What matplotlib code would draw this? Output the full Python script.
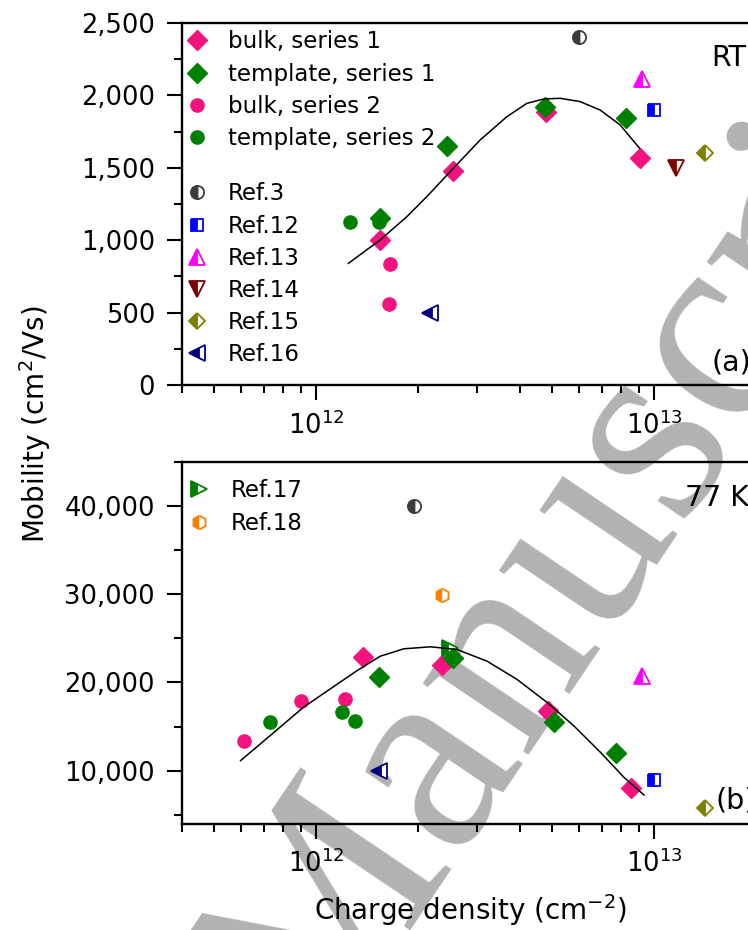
import matplotlib
matplotlib.use('Agg')
import matplotlib.pyplot as plt
from matplotlib.ticker import MultipleLocator, FixedLocator, LogLocator

# ---------------- data: RT panel (a) ----------------
rt_bulk1_x = [1.55e12, 2.54e12, 4.78e12, 9.07e12]
rt_bulk1_y = [1000, 1480, 1888, 1565]
rt_tmpl1_x = [1.55e12, 2.44e12, 4.76e12, 8.24e12]
rt_tmpl1_y = [1150, 1653, 1922, 1842]
rt_bulk2_x = [1.66e12, 1.64e12]
rt_bulk2_y = [836, 559]
rt_tmpl2_x = [1.26e12, 1.53e12]
rt_tmpl2_y = [1128, 1128]
rt_ref_labels = ['Ref.3', 'Ref.12', 'Ref.13', 'Ref.14', 'Ref.15', 'Ref.16']
rt_ref_x = [6.0e12, 1.0e13, 9.2e12, 1.16e13, 1.41e13, 2.17e12]
rt_ref_y = [2400, 1900, 2110, 1497, 1600, 495]
rt_fit_x = [1.246e12, 1.546e12, 1.855e12, 2.126e12, 2.548e12, 3.056e12, 3.667e12,
            4.201e12, 4.705e12, 5.27e12, 6.04e12, 6.92e12, 7.93e12, 9.05e12]
rt_fit_y = [840, 1001, 1162, 1301, 1497, 1692, 1853, 1945, 1975, 1980, 1957, 1899,
            1796, 1635]

# ---------------- data: 77 K panel (b) ----------------
lt_bulk1_x = [1.38e12, 2.36e12, 4.86e12, 8.51e12]
lt_bulk1_y = [22870, 22000, 16780, 8050]
lt_tmpl1_x = [1.54e12, 2.54e12, 5.06e12, 7.71e12]
lt_tmpl1_y = [20630, 22760, 15460, 12040]
lt_bulk2_x = [6.12e11, 9.02e11, 1.22e12]
lt_bulk2_y = [13330, 17880, 18150]
lt_tmpl2_x = [3.8e11, 7.33e11, 1.19e12, 1.30e12]
lt_tmpl2_y = [13220, 15490, 16630, 15570]
lt_ref_labels = ['Ref.3', 'Ref.12', 'Ref.13', 'Ref.15', 'Ref.16', 'Ref.17', 'Ref.18']
lt_ref_x = [1.95e12, 1.0e13, 9.23e12, 1.41e13, 1.54e12, 2.49e12, 2.36e12]
lt_ref_y = [40000, 8970, 20700, 5720, 9950, 23940, 29870]
lt_fit_x = [5.98e11, 7.31e11, 9.17e11, 1.10e12, 1.32e12, 1.547e12, 1.656e12, 1.814e12,
            2.177e12, 2.612e12, 3.204e12, 3.93e12, 4.83e12, 5.79e12, 6.94e12, 8.14e12,
            9.33e12]
lt_fit_y = [11130, 13960, 17170, 19250, 21320, 22970, 23320, 23810, 24040, 23730, 22410,
            20340, 17710, 15060, 12060, 9230, 7230]

# ---------------- ticks ----------------
rt_yticks = [0, 500, 1000, 1500, 2000, 2500]
rt_yticklabels = ['0', '500', '1,000', '1,500', '2,000', '2,500']
lt_yticks = [10000, 20000, 30000, 40000]
lt_yticklabels = ['10,000', '20,000', '30,000', '40,000']

# ---------------- styles ----------------
PINK = '#F2137F'
GREEN = '#008000'
ref_style = {
    'Ref.3':  dict(marker='o', color='#3C3C3C', ms=9.5),
    'Ref.12': dict(marker='s', color='#0000FF', ms=8.5),
    'Ref.13': dict(marker='^', color='#FF00FF', ms=11),
    'Ref.14': dict(marker='v', color='#800000', ms=11),
    'Ref.15': dict(marker='D', color='#808000', ms=8.5),
    'Ref.16': dict(marker='<', color='#000080', ms=11),
    'Ref.17': dict(marker='>', color='#008000', ms=11),
    'Ref.18': dict(marker='h', color='#FF8000', ms=10),
}
TICK_FS = 18.5
LEG_FS = 16.5
NOTE_FS = 20.5
LABEL_FS = 20

plt.rcParams['font.family'] = ['DejaVu Sans']
plt.rcParams['mathtext.fontset'] = 'dejavusans'

W, H = 748, 930
fig = plt.figure(figsize=(W / 100, H / 100), dpi=100)
fig.patch.set_facecolor('white')

AX_L, AX_R = 181.5, 756.0
ax1 = fig.add_axes([AX_L / W, (H - 385) / H, (AX_R - AX_L) / W, 362 / H])
ax2 = fig.add_axes([AX_L / W, (H - 823.5) / H, (AX_R - AX_L) / W, 361.5 / H])

# watermark behind axes content
fig.text(315 / W, 1 - 1060 / H, 'Manuscript', family='Liberation Serif', fontsize=200,
         color='#B2B2B2', rotation=56, rotation_mode='anchor', ha='left',
         va='baseline', zorder=-1)


def draw_panel(ax, bulk1, tmpl1, bulk2, tmpl2, ref_labels, ref_x, ref_y, fit):
    handles = {}
    handles['bulk, series 1'], = ax.plot(bulk1[0], bulk1[1], ls='none', marker='D', ms=10.5,
                                         mfc=PINK, mec=PINK, mew=1, label='bulk, series 1',
                                         zorder=3)
    handles['template, series 1'], = ax.plot(tmpl1[0], tmpl1[1], ls='none', marker='D',
                                             ms=10.5, mfc=GREEN, mec=GREEN, mew=1,
                                             label='template, series 1', zorder=3.2)
    handles['bulk, series 2'], = ax.plot(bulk2[0], bulk2[1], ls='none', marker='o', ms=9.5,
                                         mfc=PINK, mec=PINK, mew=1, label='bulk, series 2',
                                         zorder=3)
    handles['template, series 2'], = ax.plot(tmpl2[0], tmpl2[1], ls='none', marker='o',
                                             ms=9.5, mfc=GREEN, mec=GREEN, mew=1,
                                             label='template, series 2', zorder=3.1)
    for lab, x, y in zip(ref_labels, ref_x, ref_y):
        st = ref_style[lab]
        handles[lab], = ax.plot([x], [y], ls='none', marker=st['marker'], ms=st['ms'],
                                fillstyle='left', mfc=st['color'], mfcalt='white',
                                mec=st['color'], mew=1.3, label=lab, zorder=3)
    ax.plot(fit[0], fit[1], color='black', lw=1.1, zorder=4, solid_joinstyle='round')

    ax.set_xscale('log')
    ax.set_xlim(4e11, 2e13)
    ax.set_facecolor('none')
    for s in ['left', 'bottom', 'top', 'right']:
        ax.spines[s].set_linewidth(1.7)
    ax.tick_params(which='both', direction='out', top=False, right=False, width=1.5,
                   labelsize=TICK_FS, colors='black')
    ax.tick_params(which='major', length=11, pad=8)
    ax.tick_params(which='minor', length=6)
    ax.xaxis.set_major_locator(LogLocator(base=10))
    ax.xaxis.set_minor_locator(LogLocator(base=10, subs=range(2, 10)))
    return handles


h1 = draw_panel(ax1, (rt_bulk1_x, rt_bulk1_y), (rt_tmpl1_x, rt_tmpl1_y),
                (rt_bulk2_x, rt_bulk2_y), (rt_tmpl2_x, rt_tmpl2_y),
                rt_ref_labels, rt_ref_x, rt_ref_y, (rt_fit_x, rt_fit_y))
h2 = draw_panel(ax2, (lt_bulk1_x, lt_bulk1_y), (lt_tmpl1_x, lt_tmpl1_y),
                (lt_bulk2_x, lt_bulk2_y), (lt_tmpl2_x, lt_tmpl2_y),
                lt_ref_labels, lt_ref_x, lt_ref_y, (lt_fit_x, lt_fit_y))

ax1.set_ylim(0, 2500)
ax1.yaxis.set_major_locator(FixedLocator(rt_yticks))
ax1.set_yticklabels(rt_yticklabels)
ax1.yaxis.set_minor_locator(MultipleLocator(250))

ax2.set_ylim(4000, 45000)
ax2.yaxis.set_major_locator(FixedLocator(lt_yticks))
ax2.set_yticklabels(lt_yticklabels)
ax2.yaxis.set_minor_locator(MultipleLocator(5000))

leg_kw = dict(loc='upper left', frameon=False, borderpad=0, borderaxespad=0,
              handlelength=1.0, handletextpad=0.86, labelspacing=0.40, fontsize=LEG_FS)
series_names = ['bulk, series 1', 'template, series 1', 'bulk, series 2', 'template, series 2']
leg_a = ax1.legend(handles=[h1[n] for n in series_names], bbox_to_anchor=(0.007, 0.9795),
                   **leg_kw)
ax1.add_artist(leg_a)
ax1.legend(handles=[h1[n] for n in rt_ref_labels], bbox_to_anchor=(0.007, 0.5594), **leg_kw)
ax2.legend(handles=[h2['Ref.17'], h2['Ref.18']], bbox_to_anchor=(0.0113, 0.9516), **leg_kw)

ax1.text(0.9217, 0.903, 'RT', transform=ax1.transAxes, fontsize=NOTE_FS, ha='left',
         va='center')
ax1.text(0.923, 0.0635, '(a)', transform=ax1.transAxes, fontsize=NOTE_FS, ha='left',
         va='center')
ax2.text(0.876, 0.900, '77 K', transform=ax2.transAxes, fontsize=NOTE_FS, ha='left',
         va='center')
ax2.text(0.930, 0.0636, '(b)', transform=ax2.transAxes, fontsize=NOTE_FS, ha='left',
         va='center')

fig.text(35 / W, 1 - 424 / H, 'Mobility (cm$^2$/Vs)', rotation=90, ha='center', va='center',
         fontsize=LABEL_FS)
fig.text(470 / W, 1 - 910 / H, 'Charge density (cm$^{-2}$)', ha='center', va='center',
         fontsize=LABEL_FS)

fig.savefig('out.png', dpi=100)
